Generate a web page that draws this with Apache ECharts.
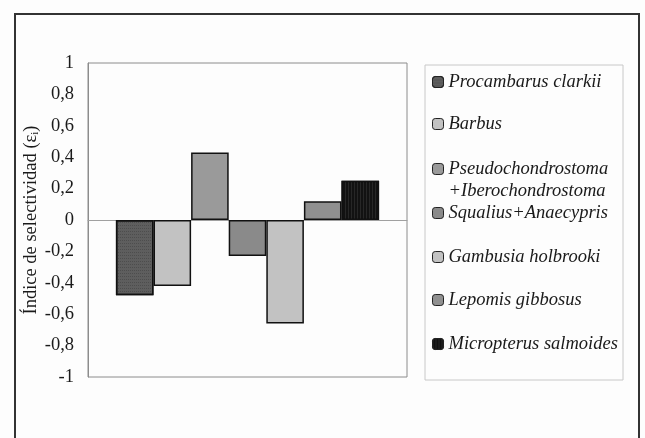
<!DOCTYPE html>
<html><head><meta charset="utf-8">
<script src="https://cdn.jsdelivr.net/npm/echarts@6/dist/echarts.min.js"></script>
<style>html,body{margin:0;padding:0;background:#fdfdfd}#c{width:645px;height:438px}</style>
</head><body><div id="c"></div>
<script>
var species = ['Procambarus clarkii','Barbus','Pseudochondrostoma+Iberochondrostoma','Squalius+Anaecypris','Gambusia holbrooki','Lepomis gibbosus','Micropterus salmoides'];
var legendLabels = ['Procambarus clarkii','Barbus','\nPseudochondrostoma\n+Iberochondrostoma','Squalius+Anaecypris','Gambusia holbrooki','Lepomis gibbosus','Micropterus salmoides'];
var values = [-0.48, -0.42, 0.43, -0.23, -0.66, 0.12, 0.25];
var colors = ['#5e5e5e','#c2c2c2','#9a9a9a','#8a8a8a','#c2c2c2','#909090','#121212'];
var yTicks = [-1,-0.8,-0.6,-0.4,-0.2,0,0.2,0.4,0.6,0.8,1];
var legendTops = [71, 113, 136, 202, 246, 289, 333];

var chart = echarts.init(document.getElementById('c'), null, {renderer:'canvas'});
var font = 'Liberation Serif';
var series = species.map(function(s,i){
  var it = {color: colors[i], borderColor:'#111', borderWidth:1.5};
  if (i===0) it.decal = {symbol:'rect', symbolSize:1, dashArrayX:[1,1], dashArrayY:[1,2], color:'rgba(0,0,0,0.18)'};
  if (i===6) it.decal = {symbol:'rect', symbolSize:1, dashArrayX:[1,2], dashArrayY:[4,0], color:'rgba(80,80,80,0.35)'};
  return {type:'bar', name:species[i], data:[values[i]], barGap:'0%', barCategoryGap:'17.5%', itemStyle:it};
});
var legends = species.map(function(s,i){
  return {
    data:[s], orient:'vertical', left:432, top:legendTops[i], padding:0,
    itemWidth:11, itemHeight:11, itemGap:0, selectedMode:false,
    formatter:function(){return legendLabels[i];},
    textStyle:{fontFamily:font, fontStyle:'italic', fontSize:18.5, color:'#1a1a1a', lineHeight:22},
    itemStyle:{borderColor:'#222', borderWidth:1}
  };
});
chart.setOption({
  animation:false,
  backgroundColor:'#fdfdfd',
  color: colors,
  graphic:[
    {type:'rect', shape:{x:15,y:14,width:624,height:440}, style:{fill:null, stroke:'#333', lineWidth:2}, silent:true, z:-1},
    {type:'rect', shape:{x:425,y:65,width:198,height:315}, style:{fill:null, stroke:'#c8c8c8', lineWidth:1}, silent:true, z:-1}
  ],
  grid:{left:88, right:238, top:63, bottom:61, show:true, borderColor:'#8c8c8c', borderWidth:1, containLabel:false},
  legend: legends,
  xAxis:{type:'category', data:[''], axisLine:{onZero:true, lineStyle:{color:'#a0a0a0', width:1}}, axisTick:{show:false}, axisLabel:{show:false}},
  yAxis:{type:'value', min:-1, max:1, interval:0.2,
    axisLine:{show:true, lineStyle:{color:'#8c8c8c'}}, axisTick:{show:false}, splitLine:{show:false},
    axisLabel:{fontFamily:font, fontSize:18.5, color:'#1a1a1a', margin:14,
      formatter:function(v){ var r=Math.round(v*10)/10; return String(r).replace('.',','); }},
    name:'Índice de selectividad (ε{sub|i})', nameLocation:'middle', nameGap:42, nameRotate:90,
    nameTextStyle:{fontFamily:font, fontSize:18.5, color:'#1a1a1a', rich:{sub:{fontFamily:font, fontSize:11, verticalAlign:'bottom', padding:[6,0,0,0]}}}
  },
  series: series
});
</script></body></html>
